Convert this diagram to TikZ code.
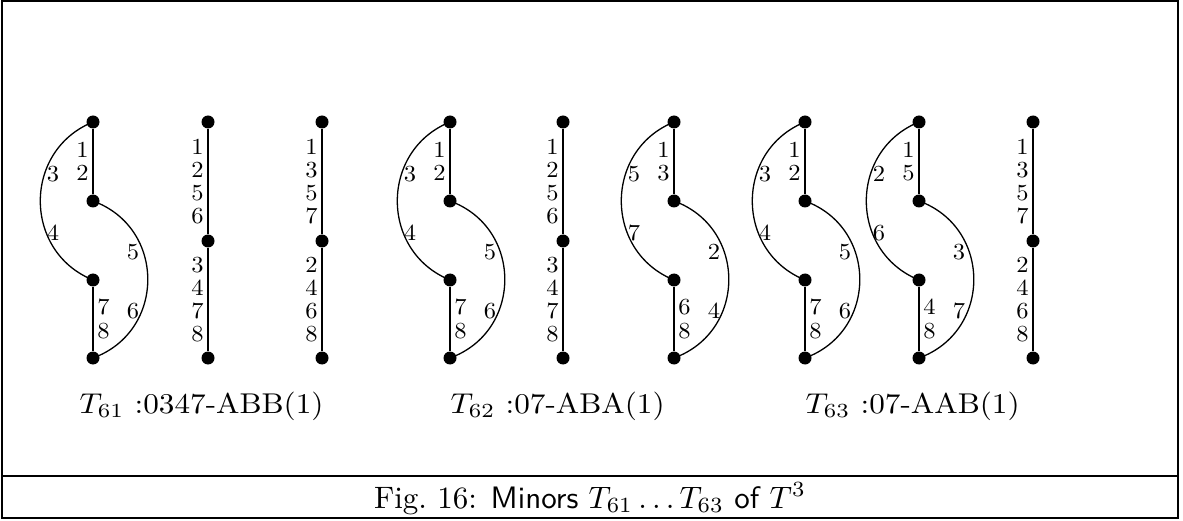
\documentclass[tikz,border=0pt]{standalone}
\tikzset{
 dot/.style={circle,fill=black,inner sep=0pt,minimum size=13pt},
 edge/.style={line width=1.3pt},
 larc/.style={out=202,in=158,looseness=1.23},
 rarc/.style={out=-20,in=20,looseness=1.27},
 stk/.style={font=\fontsize{10}{10.1}\selectfont,align=center,inner sep=1.1pt,xscale=2.45,yscale=2.3},
 num/.style={font=\fontsize{10}{10.1}\selectfont,inner sep=0pt,xscale=2.45,yscale=2.3},
 lbl/.style={font=\fontsize{10}{12}\selectfont,inner sep=0pt,anchor=base west,xscale=3.12,yscale=2.86},
 figcap/.style={font=\fontsize{10}{12}\selectfont,inner sep=0pt,anchor=base,scale=3.1},
 frame/.style={line width=1.5pt}
}
\newcommand\sgraph[8]{%
 \node[dot] (#1t) at (#2,398) {};
 \node[dot] (#1a) at (#2,319) {};
 \node[dot] (#1b) at (#2,240) {};
 \node[dot] (#1d) at (#2,162) {};
 \draw[edge] (#1t) -- node[stk,left] {#3} (#1a);
 \draw[edge] (#1b) -- node[stk,right] {#8} (#1d);
 \draw[edge] (#1t.center) to[larc] (#1b.center);
 \draw[edge] (#1a.center) to[rarc] (#1d.center);
 \node[num] (#1lu) at (#2-40,346) {#4};
 \node[num] (#1ll) at (#2-40,287) {#5};
 \node[num] (#1ru) at (#2+40,268) {#6};
 \node[num] (#1rl) at (#2+40,209) {#7};
}
\newcommand\pgraph[4]{%
 \node[dot] (#1t) at (#2,398) {};
 \node[dot] (#1m) at (#2,279) {};
 \node[dot] (#1d) at (#2,162) {};
 \draw[edge] (#1t) -- node[stk,left] {#3} (#1m);
 \draw[edge] (#1m) -- node[stk,left] {#4} (#1d);
}
\begin{document}
\begin{tikzpicture}[x=1pt,y=1pt]
\useasboundingbox (0,0) rectangle (1183,520);
\draw[frame] (2,2) rectangle (1178,519);
\draw[frame] (2,44) -- (1178,44);
\node[figcap] (caption) at (590,12) {Fig.~16: {\sffamily Minors} $T_{61}\ldots T_{63}$ {\sffamily of} $T^3$};
\sgraph{a}{93}{1\\2}{3}{4}{5}{6}{7\\8}
\pgraph{b}{208}{1\\2\\5\\6}{3\\4\\7\\8}
\pgraph{c}{322}{1\\3\\5\\7}{2\\4\\6\\8}
\sgraph{d}{450}{1\\2}{3}{4}{5}{6}{7\\8}
\pgraph{e}{563}{1\\2\\5\\6}{3\\4\\7\\8}
\sgraph{f}{674}{1\\3}{5}{7}{2}{4}{6\\8}
\sgraph{g}{805}{1\\2}{3}{4}{5}{6}{7\\8}
\sgraph{h}{919}{1\\5}{2}{6}{3}{7}{4\\8}
\pgraph{k}{1033}{1\\3\\5\\7}{2\\4\\6\\8}
\node[lbl] (l1) at (79,107) {$T_{61}$\ :0347-ABB(1)};
\node[lbl] (l2) at (450,107) {$T_{62}$\ :07-ABA(1)};
\node[lbl] (l3) at (805,107) {$T_{63}$\ :07-AAB(1)};
\end{tikzpicture}
\end{document}
